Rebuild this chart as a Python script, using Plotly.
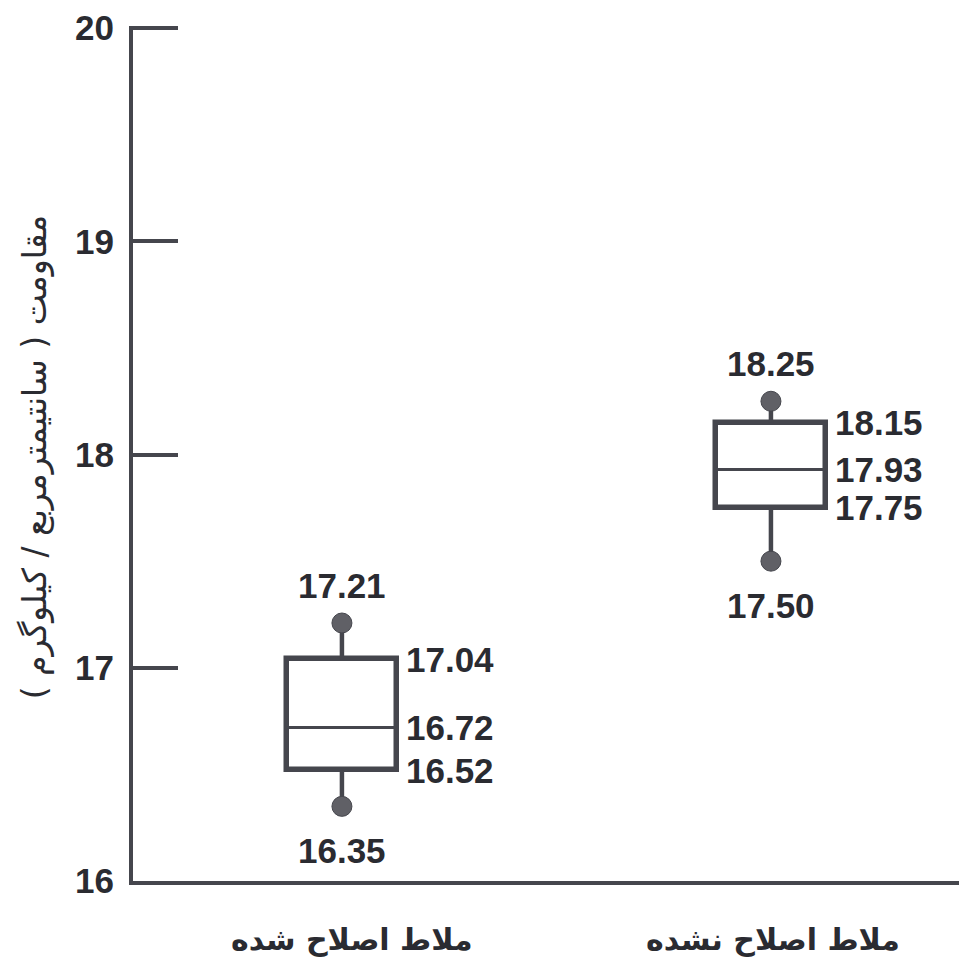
import plotly.graph_objects as go

categories = ["ملاط اصلاح شده", "ملاط اصلاح نشده"]
x_pos = [1, 2]
lower_fence = [16.35, 17.50]
q1 = [16.52, 17.75]
median = [16.72, 17.93]
q3 = [17.04, 18.15]
upper_fence = [17.21, 18.25]
y_ticks = [16, 17, 18, 19, 20]
y_title = "مقاومت ( سانتیمترمربع / کیلوگرم )"

INK = "#45464d"
DOT = "#606066"
TXT = "#2a2b31"
BOX_W = 0.256

fig = go.Figure()

# whiskers
for i, xc in enumerate(x_pos):
    fig.add_trace(go.Scatter(
        x=[xc, xc, None, xc, xc],
        y=[q3[i], upper_fence[i], None, q1[i], lower_fence[i]],
        mode="lines", line=dict(color=INK, width=4.5),
        hoverinfo="skip", showlegend=False))

# boxes
fig.add_trace(go.Bar(
    x=x_pos, base=q1, y=[b - a for a, b in zip(q1, q3)], width=BOX_W,
    marker=dict(color="white", line=dict(color=INK, width=5.5)),
    showlegend=False, hoverinfo="skip"))

# medians
for i, xc in enumerate(x_pos):
    fig.add_trace(go.Scatter(
        x=[xc - BOX_W / 2, xc + BOX_W / 2], y=[median[i], median[i]],
        mode="lines", line=dict(color=INK, width=2.8),
        hoverinfo="skip", showlegend=False))

# fence dots
fig.add_trace(go.Scatter(
    x=x_pos + x_pos, y=upper_fence + lower_fence, mode="markers",
    marker=dict(color=DOT, size=20, line=dict(color=INK, width=1)),
    hoverinfo="skip", showlegend=False))

lab_font = dict(family="Liberation Sans, Arial", size=35, color=TXT, weight="bold")
ann = []
for i, xc in enumerate(x_pos):
    ann.append(dict(x=xc, y=upper_fence[i], text=f"{upper_fence[i]:.2f}", showarrow=False,
                    xanchor="center", yanchor="middle", yshift=38, font=lab_font))
    ann.append(dict(x=xc, y=lower_fence[i], text=f"{lower_fence[i]:.2f}", showarrow=False,
                    xanchor="center", yanchor="middle", yshift=-44, font=lab_font))
    for v in (q3[i], median[i], q1[i]):
        ann.append(dict(x=xc + BOX_W / 2, y=v, text=f"{v:.2f}", showarrow=False,
                        xanchor="left", yanchor="middle", xshift=7, font=lab_font))
    ann.append(dict(x=xc, y=0, yref="paper", text=categories[i], showarrow=False,
                    xanchor="center", yanchor="middle", yshift=-58, xshift=10 if i == 0 else 2,
                    font=dict(family="DejaVu Sans", size=30, color=TXT, weight="bold")))

ann.append(dict(x=-0.118, xref="paper", y=0.495, yref="paper", text=y_title, showarrow=False,
                textangle=-90, xanchor="center", yanchor="middle",
                font=dict(family="DejaVu Sans", size=33, color=TXT)))

fig.update_layout(
    width=959, height=954,
    margin=dict(l=125, r=0, t=15, b=81),
    paper_bgcolor="white", plot_bgcolor="white",
    annotations=ann, bargap=0,
)
fig.update_xaxes(range=[0.513, 2.457], showline=True, linecolor=INK, linewidth=4,
                 showgrid=False, zeroline=False, showticklabels=False, ticks="")
fig.update_yaxes(range=[16, 20.01], tickvals=y_ticks, ticktext=[str(t) for t in y_ticks],
                 showline=True, linecolor=INK, linewidth=4, showgrid=False, zeroline=False,
                 ticks="inside", ticklen=45, tickwidth=4, tickcolor=INK,
                 tickfont=dict(family="Liberation Sans, Arial", size=35, color=TXT, weight="bold"),
                 ticklabelstandoff=8, ticklabeloverflow="allow")

fig.write_html("out.html")
